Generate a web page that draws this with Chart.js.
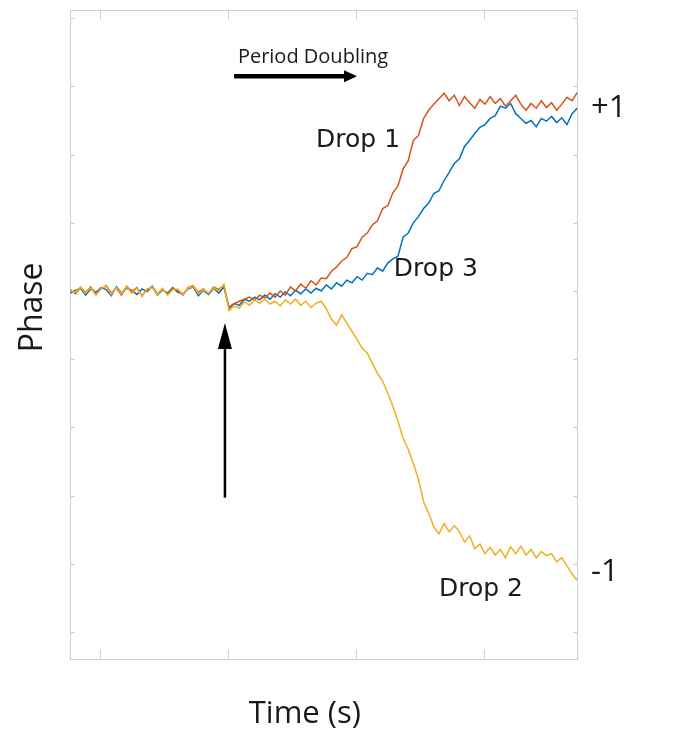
<!DOCTYPE html>
<html>
<head>
<meta charset="utf-8">
<title>Phase vs Time</title>
<script src="https://cdn.jsdelivr.net/npm/chart.js@4.4.1/dist/chart.umd.min.js"></script>
<style>
  html, body { margin: 0; padding: 0; background: #fff; }
  #wrap { width: 681px; height: 747px; }
</style>
</head>
<body>
<div id="wrap"><canvas id="phaseChart" width="681" height="747"></canvas></div>
<script>
// time grid (arbitrary seconds), one sample per step
const T0 = -5.8;
const DT = 1;
const xTicks = [0, 25, 50, 75];
const yTicks = [-5, -4, -3, -2, -1, 0, 1, 2, 3, 4];

// phase, one value per sample
const drop1 = [
  0.02, -0.04, 0.05, -0.02, 0.06, -0.05, 0.03, 0.08, -0.03, 0.04,
  -0.06, 0.07, -0.01, 0.05, -0.07, 0.02, 0.06, -0.04, 0.03, -0.05,
  0.04, 0.01, -0.06, 0.05, 0.08, -0.02, 0.03, -0.04, 0.06, 0.02, 0.09,
  -0.26, -0.19, -0.15, -0.12, -0.09, -0.13, -0.06, -0.10, -0.03, -0.09,
  0.00, -0.06, 0.06, 0.00, 0.10, 0.04, 0.15, 0.09, 0.19, 0.18,
  0.29, 0.35, 0.44, 0.49, 0.62, 0.65, 0.79, 0.85, 0.97, 1.03,
  1.21, 1.25, 1.44, 1.54, 1.79, 1.91, 2.21, 2.28, 2.53, 2.65,
  2.74, 2.82, 2.90, 2.79, 2.87, 2.72, 2.85, 2.76, 2.68, 2.81,
  2.74, 2.85, 2.75, 2.82, 2.71, 2.79, 2.87, 2.74, 2.65, 2.75,
  2.68, 2.79, 2.69, 2.76, 2.65, 2.74, 2.84, 2.79, 2.91,
];
const drop2 = [
  0.00, -0.02, 0.06, -0.03, 0.05, -0.06, 0.04, 0.07, -0.05, 0.05,
  -0.04, 0.06, -0.03, 0.04, -0.08, 0.03, 0.05, -0.05, 0.04, -0.06,
  0.02, 0.03, -0.05, 0.04, 0.07, -0.04, 0.02, -0.03, 0.05, 0.00, 0.10,
  -0.29, -0.22, -0.25, -0.16, -0.21, -0.13, -0.18, -0.12, -0.19, -0.15,
  -0.22, -0.13, -0.19, -0.12, -0.21, -0.15, -0.24, -0.18, -0.15, -0.26,
  -0.41, -0.50, -0.35, -0.47, -0.59, -0.71, -0.84, -0.91, -1.06, -1.21,
  -1.32, -1.50, -1.69, -1.91, -2.16, -2.32, -2.53, -2.76, -3.09, -3.26,
  -3.46, -3.56, -3.41, -3.53, -3.44, -3.53, -3.68, -3.59, -3.78, -3.71,
  -3.85, -3.76, -3.87, -3.79, -3.91, -3.75, -3.85, -3.74, -3.87, -3.79,
  -3.91, -3.82, -3.88, -3.85, -3.97, -3.91, -4.03, -4.15, -4.24,
];
const drop3 = [
  -0.03, 0.01, 0.04, -0.06, 0.03, -0.02, 0.05, 0.02, -0.07, 0.06,
  -0.03, 0.04, 0.01, -0.05, 0.03, -0.01, 0.07, -0.06, 0.02, -0.03,
  0.05, -0.02, -0.04, 0.03, 0.06, -0.07, 0.01, -0.05, 0.04, -0.03, 0.06,
  -0.24, -0.18, -0.21, -0.12, -0.15, -0.09, -0.13, -0.06, -0.12, -0.04,
  -0.09, -0.01, -0.07, 0.01, -0.04, 0.03, -0.03, 0.04, 0.00, 0.09,
  0.03, 0.12, 0.07, 0.16, 0.12, 0.21, 0.16, 0.26, 0.24, 0.34,
  0.29, 0.41, 0.47, 0.51, 0.79, 0.85, 1.00, 1.09, 1.21, 1.29,
  1.43, 1.47, 1.62, 1.74, 1.87, 1.94, 2.12, 2.21, 2.31, 2.40,
  2.44, 2.53, 2.57, 2.71, 2.68, 2.75, 2.60, 2.53, 2.46, 2.50,
  2.41, 2.53, 2.49, 2.56, 2.47, 2.54, 2.44, 2.60, 2.68,
];

const time = drop1.map((_, i) => T0 + i * DT);
const toPoints = (vals) => vals.map((v, i) => ({ x: time[i], y: v }));

// annotations in data units
const notes = [
  { text: 'Period Doubling', t: 41.6, v: 3.43, font: '20px "Open Sans"' },
  { text: 'Drop 1', t: 50.4, v: 2.2, font: '25px "DejaVu Sans"' },
  { text: 'Drop 3', t: 65.6, v: 0.32, font: '25px "DejaVu Sans"' },
  { text: 'Drop 2', t: 74.4, v: -4.38, font: '25px "DejaVu Sans"' },
];
const sideNotes = [
  { text: '+1', v: 2.68 },
  { text: '-1', v: -4.12 },
];

function arrow(ctx, x0, y0, x1, y1, w, head, headW) {
  const ang = Math.atan2(y1 - y0, x1 - x0);
  const bx = x1 - head * Math.cos(ang);
  const by = y1 - head * Math.sin(ang);
  ctx.lineWidth = w;
  ctx.beginPath();
  ctx.moveTo(x0, y0);
  ctx.lineTo(bx, by);
  ctx.stroke();
  ctx.beginPath();
  ctx.moveTo(x1, y1);
  ctx.lineTo(bx + headW * Math.sin(ang), by - headW * Math.cos(ang));
  ctx.lineTo(bx - headW * Math.sin(ang), by + headW * Math.cos(ang));
  ctx.closePath();
  ctx.fill();
}

const frame = {
  id: 'frame',
  beforeDatasetsDraw(chart) {
    const { ctx, chartArea: a, scales: { x, y } } = chart;
    ctx.save();
    ctx.strokeStyle = '#d0d0d0';
    ctx.lineWidth = 1;
    ctx.strokeRect(a.left + 0.5, a.top + 0.5, a.right - a.left - 1, a.bottom - a.top - 1);
    ctx.beginPath();
    x.ticks.forEach((tk) => {
      const px = Math.round(x.getPixelForValue(tk.value)) + 0.5;
      ctx.moveTo(px, a.bottom); ctx.lineTo(px, a.bottom - 10);
      ctx.moveTo(px, a.top); ctx.lineTo(px, a.top + 10);
    });
    y.ticks.forEach((tk) => {
      const py = Math.round(y.getPixelForValue(tk.value)) + 0.5;
      ctx.moveTo(a.left, py); ctx.lineTo(a.left + 5, py);
      ctx.moveTo(a.right, py); ctx.lineTo(a.right - 5, py);
    });
    ctx.stroke();
    ctx.restore();
  },
  afterDraw(chart) {
    const { ctx, chartArea: a, scales: { x, y } } = chart;
    ctx.save();
    ctx.fillStyle = '#1a1a1a';
    ctx.strokeStyle = '#000';
    ctx.textAlign = 'center';
    ctx.textBaseline = 'middle';
    notes.forEach((n) => {
      ctx.font = n.font;
      ctx.fillText(n.text, x.getPixelForValue(n.t), y.getPixelForValue(n.v));
    });
    ctx.font = '31px "Open Sans"';
    ctx.textAlign = 'left';
    sideNotes.forEach((n) => {
      ctx.fillText(n.text, a.right + 13, y.getPixelForValue(n.v));
    });

    // axis titles
    ctx.textAlign = 'center';
    ctx.fillText('Time (s)', x.getPixelForValue(40.0), a.bottom + 54);
    ctx.save();
    ctx.font = '32px "Open Sans"';
    ctx.translate(a.left - 37, y.getPixelForValue(-0.24));
    ctx.rotate(-Math.PI / 2);
    ctx.fillText('Phase', 0, 0);
    ctx.restore();

    // arrows
    ctx.fillStyle = '#000';
    arrow(ctx, x.getPixelForValue(26.2), y.getPixelForValue(3.15),
      x.getPixelForValue(50.2), y.getPixelForValue(3.15), 4.5, 13, 6);
    arrow(ctx, x.getPixelForValue(24.4), y.getPixelForValue(-3.03),
      x.getPixelForValue(24.4), y.getPixelForValue(-0.47), 2.5, 26, 7);
    ctx.restore();
  },
};

const ctx = document.getElementById('phaseChart');
new Chart(ctx, {       // eslint-disable-line
  type: 'line',
  data: {
    datasets: [
      { label: 'Drop 2', data: toPoints(drop2), borderColor: '#EDB120', order: 0 },
      { label: 'Drop 1', data: toPoints(drop1), borderColor: '#D95319', order: 1 },
      { label: 'Drop 3', data: toPoints(drop3), borderColor: '#0072BD', order: 2 },
    ],
  },
  options: {
    responsive: false,
    animation: false,
    layout: { padding: { left: 62, right: 103, top: 10, bottom: 79 } },
    elements: {
      line: { borderWidth: 1.5, tension: 0, fill: false },
      point: { radius: 0, hoverRadius: 0 },
    },
    plugins: { legend: { display: false }, tooltip: { enabled: false } },
    scales: {
      x: {
        type: 'linear',
        min: -5.86,
        max: 93.36,
        afterBuildTicks: (s) => { s.ticks = xTicks.map((value) => ({ value })); },
        ticks: { display: false },
        grid: { display: false },
        border: { display: false },
      },
      y: {
        type: 'linear',
        min: -5.41,
        max: 4.12,
        afterBuildTicks: (s) => { s.ticks = yTicks.map((value) => ({ value })); },
        ticks: { display: false },
        grid: { display: false },
        border: { display: false },
      },
    },
  },
  plugins: [frame],
});
</script>
</body>
</html>
